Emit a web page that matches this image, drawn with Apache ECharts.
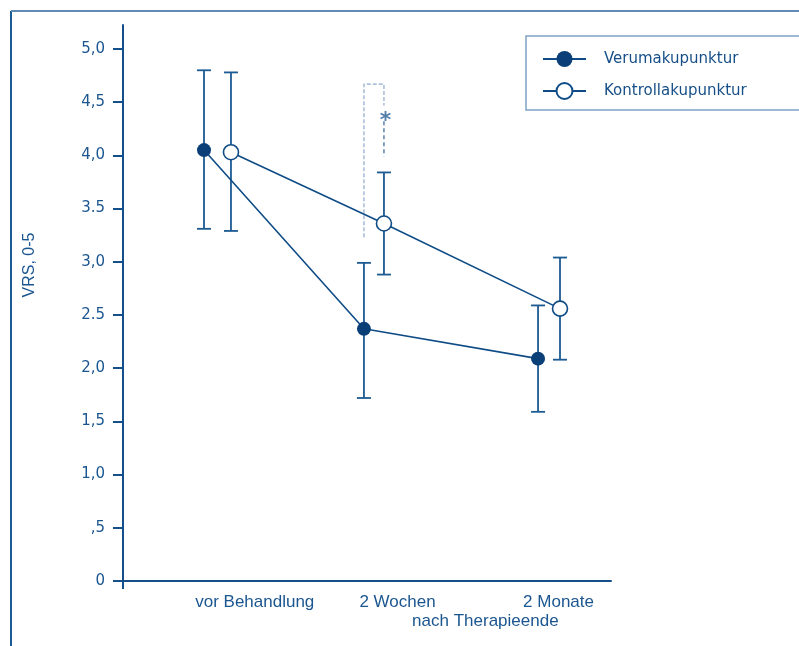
<!DOCTYPE html>
<html>
<head>
<meta charset="utf-8">
<script src="https://cdn.jsdelivr.net/npm/echarts@6/dist/echarts.min.js"></script>
<style>
  html, body { margin: 0; padding: 0; background: #ffffff; }
  #chart { width: 799px; height: 646px; }
</style>
</head>
<body>
<div id="chart"></div>
<script>
// ---- data ----
var seriesNames = ['Verumakupunktur', 'Kontrollakupunktur'];
var categoryLabels = ['vor Behandlung', '2 Wochen', '2 Monate'];
var categoryLabelPos = [1.08, 2.25, 3.57];
var subLabel = ['nach Therapieende'];
var subLabelPos = [2.97];
var yTickValues = [0, 0.5, 1, 1.5, 2, 2.5, 3, 3.5, 4, 4.5, 5];
var yTickLabels = ['0', ',5', '1,0', '1,5', '2,0', '2.5', '3,0', '3.5', '4,0', '4,5', '5,0'];

var verumX = [0.664, 1.975, 3.402];
var verumMean = [4.05, 2.37, 2.09];
var verumLow = [3.31, 1.72, 1.59];
var verumHigh = [4.80, 2.99, 2.59];

var kontrollX = [0.885, 2.139, 3.582];
var kontrollMean = [4.03, 3.36, 2.56];
var kontrollLow = [3.29, 2.88, 2.08];
var kontrollHigh = [4.78, 3.84, 3.04];

// significance bracket (between Verum and Kontroll at 2 Wochen)
var bracketLight = [[1.975, 3.23], [1.975, 4.67], [2.139, 4.67], [2.139, 4.47]];
var bracketDark = [[2.139, 4.32], [2.139, 3.99]];
var starPos = [2.152, 4.37];

var BLUE = '#0f4c86';
var DARK = '#0a3f78';

function pairs(xs, ys) { return xs.map(function (x, i) { return [x, ys[i]]; }); }
function errData(xs, lo, hi) { return xs.map(function (x, i) { return [x, lo[i], hi[i]]; }); }
function lookup(vals, labels) {
  return function (v) {
    for (var i = 0; i < vals.length; i++) {
      if (Math.abs(vals[i] - v) < 1e-6) return labels[i];
    }
    return '';
  };
}

function errorBarItem(params, api) {
  var x = api.value(0);
  var lo = api.coord([x, api.value(1)]);
  var hi = api.coord([x, api.value(2)]);
  var half = 7;
  var style = { stroke: '#1c5a92', lineWidth: 1.8, fill: null };
  return {
    type: 'group',
    children: [
      { type: 'line', shape: { x1: hi[0], y1: hi[1], x2: lo[0], y2: lo[1] }, style: style },
      { type: 'line', shape: { x1: hi[0] - half, y1: hi[1], x2: hi[0] + half, y2: hi[1] }, style: style },
      { type: 'line', shape: { x1: lo[0] - half, y1: lo[1], x2: lo[0] + half, y2: lo[1] }, style: style }
    ]
  };
}

var chart = echarts.init(document.getElementById('chart'), null, { renderer: 'canvas' });

var labelFont = { fontFamily: 'Liberation Sans', fontSize: 17, color: '#1b5690' };

chart.setOption({
  backgroundColor: '#ffffff',
  animation: false,
  grid: { left: 123, right: 188, top: 25, bottom: 65, containLabel: false },
  legend: {
    orient: 'vertical',
    left: 542,
    top: 51,
    itemWidth: 43,
    itemHeight: 20,
    itemGap: 15,
    padding: 0,
    textStyle: { fontFamily: 'DejaVu Sans', fontSize: 15, color: '#164f88', padding: [0, 0, 0, 13] },
    data: seriesNames
  },
  xAxis: [
    {
      type: 'value',
      min: 0,
      max: 4,
      splitLine: { show: false },
      axisLine: { show: true, onZero: false, lineStyle: { color: '#134f8a', width: 2 } },
      axisTick: { show: true, customValues: [0], length: 8, lineStyle: { color: '#134f8a', width: 2 } },
      axisLabel: Object.assign({
        show: true,
        customValues: categoryLabelPos,
        margin: 13,
        hideOverlap: false,
        formatter: lookup(categoryLabelPos, categoryLabels)
      }, labelFont)
    },
    {
      type: 'value',
      position: 'bottom',
      gridIndex: 0,
      min: 0,
      max: 4,
      splitLine: { show: false },
      axisLine: { show: false, onZero: false },
      axisTick: { show: false },
      axisLabel: Object.assign({
        show: true,
        customValues: subLabelPos,
        margin: 32,
        hideOverlap: false,
        formatter: lookup(subLabelPos, subLabel)
      }, labelFont)
    }
  ],
  yAxis: {
    type: 'value',
    min: 0,
    max: 5.2256,
    splitLine: { show: false },
    axisLine: { show: true, lineStyle: { color: '#134f8a', width: 2 } },
    axisTick: { show: true, customValues: yTickValues, length: 10, lineStyle: { color: '#134f8a', width: 2 } },
    axisLabel: {
      show: true,
      customValues: yTickValues,
      margin: 18,
      fontFamily: 'DejaVu Sans',
      fontSize: 15,
      color: '#1b5690',
      formatter: lookup(yTickValues, yTickLabels)
    }
  },
  graphic: [
    { type: 'line', shape: { x1: 11, y1: 11, x2: 11, y2: 646 }, style: { stroke: '#1a5a92', lineWidth: 2 } },
    { type: 'line', shape: { x1: 11, y1: 11, x2: 799, y2: 11 }, style: { stroke: '#5f8ab3', lineWidth: 2 } },
    { type: 'rect', shape: { x: 526, y: 36, width: 300, height: 74 }, style: { stroke: '#7fa2c4', lineWidth: 1.5, fill: 'transparent' }, z: -1 },
    { type: 'text', x: 30, y: 265, rotation: Math.PI / 2, style: { text: 'VRS, 0-5', fontFamily: 'Liberation Sans', fontSize: 16, fill: '#1b5690', align: 'center', verticalAlign: 'middle' } }
  ],
  series: [
    {
      type: 'custom',
      name: 'errV',
      renderItem: errorBarItem,
      data: errData(verumX, verumLow, verumHigh),
      encode: { x: 0, y: [1, 2] },
      z: 1,
      silent: true
    },
    {
      type: 'custom',
      name: 'errK',
      renderItem: errorBarItem,
      data: errData(kontrollX, kontrollLow, kontrollHigh),
      encode: { x: 0, y: [1, 2] },
      z: 1,
      silent: true
    },
    {
      type: 'line',
      name: 'bracketLight',
      data: bracketLight,
      symbol: 'none',
      lineStyle: { color: '#8eaacb', width: 1.2, type: [4, 2] },
      z: 1,
      silent: true
    },
    {
      type: 'line',
      name: 'bracketDark',
      data: bracketDark,
      symbol: 'none',
      lineStyle: { color: '#2f6296', width: 1.2, type: [4, 3] },
      z: 1,
      silent: true
    },
    {
      type: 'scatter',
      name: 'star',
      data: [starPos],
      symbolSize: 1,
      itemStyle: { color: 'transparent' },
      label: { show: true, formatter: '*', position: 'inside', offset: [0, 5], fontFamily: 'DejaVu Sans', fontSize: 22, fontWeight: 'bold', color: '#2a5e94' },
      z: 4,
      silent: true
    },
    {
      type: 'line',
      name: seriesNames[0],
      data: pairs(verumX, verumMean),
      symbol: 'circle',
      symbolSize: 14,
      itemStyle: { color: DARK, borderColor: DARK, borderWidth: 0 },
      lineStyle: { color: BLUE, width: 1.6 },
      z: 3
    },
    {
      type: 'line',
      name: seriesNames[1],
      data: pairs(kontrollX, kontrollMean),
      symbol: 'circle',
      symbolSize: 15,
      itemStyle: { color: '#ffffff', borderColor: BLUE, borderWidth: 1.6 },
      lineStyle: { color: BLUE, width: 1.6 },
      z: 3
    }
  ]
});
</script>
</body>
</html>
